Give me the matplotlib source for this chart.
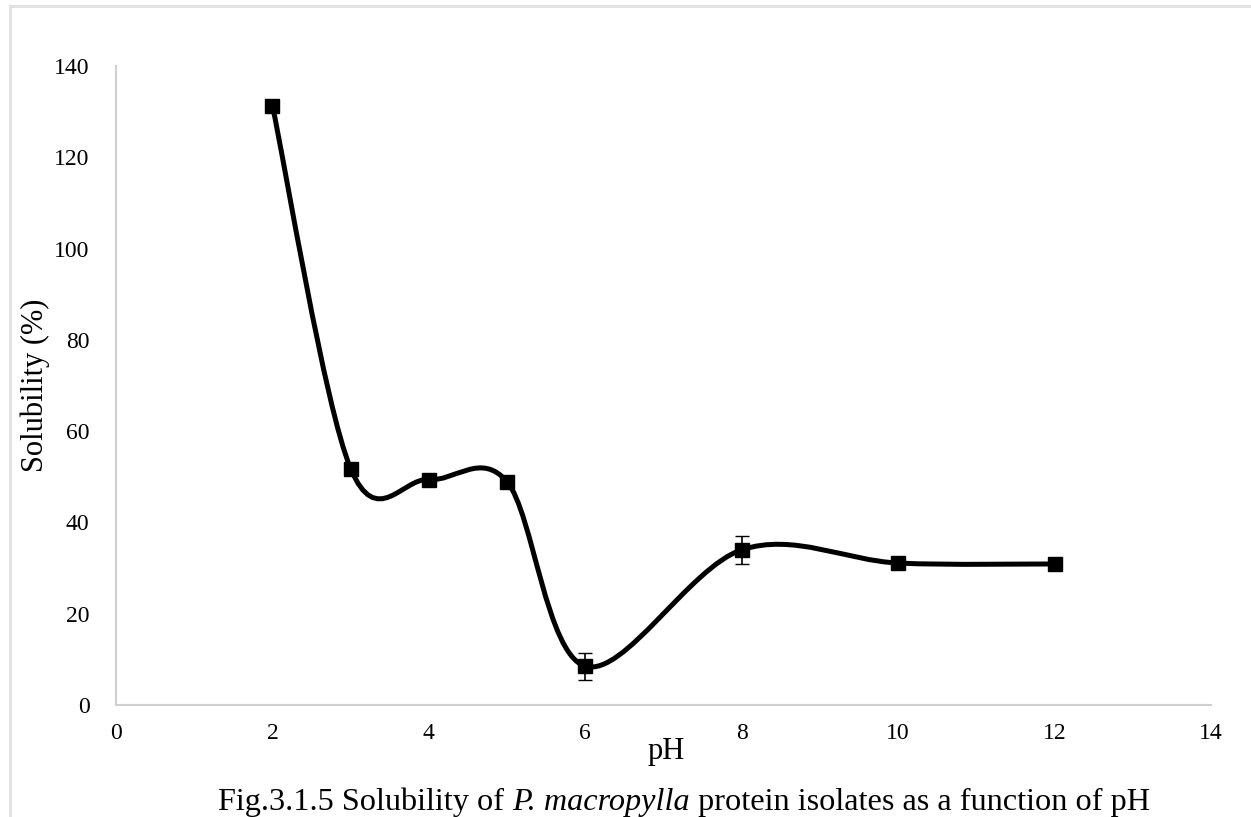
import numpy as np
import matplotlib
matplotlib.use("Agg")
import matplotlib.pyplot as plt
from matplotlib.path import Path
from matplotlib.patches import PathPatch

# data
ph = [2, 3, 4, 5, 6, 8, 10, 12]
solubility = [131.3, 51.8, 49.4, 48.9, 8.5, 34.0, 31.1, 30.9]
err = [0.8, 1.0, 1.0, 1.0, 3.0, 3.0, 1.0, 0.8]

plt.rcParams['font.family'] = ['Liberation Serif', 'DejaVu Serif']

fig = plt.figure(figsize=(12.51, 8.17), dpi=100)
ax = fig.add_axes([116/1251, 1-705/817, (1211-116)/1251, (705-66)/817])


def suave(xs, ys):
    # curva suavizada estilo Excel (Catmull-Rom -> Bezier)
    pts = np.column_stack([xs, ys]).astype(float)
    n = len(pts)
    verts = [pts[0]]
    codes = [Path.MOVETO]
    for i in range(n - 1):
        p0 = pts[i - 1] if i > 0 else pts[i]
        p1 = pts[i]
        p2 = pts[i + 1]
        p3 = pts[i + 2] if i + 2 < n else pts[i + 1]
        c1 = p1 + (p2 - p0) / 6
        c2 = p2 - (p3 - p1) / 6
        verts += [c1, c2, p2]
        codes += [Path.CURVE4] * 3
    return Path(verts, codes)


ax.add_patch(PathPatch(suave(ph, solubility), fill=False, lw=3.6, color='black', zorder=2))
ax.errorbar(ph, solubility, yerr=err, fmt='s', color='black', ms=10, ecolor='black',
            elinewidth=1.2, capsize=5, zorder=3)

ax.set_xlim(0, 14)
ax.set_ylim(0, 140)
ax.set_xticks(range(0, 15, 2))
ax.set_yticks(range(0, 141, 20))
for s in ['top', 'right']:
    ax.spines[s].set_visible(False)
for s in ['left', 'bottom']:
    ax.spines[s].set_color('#d0d0d0')
    ax.spines[s].set_linewidth(1.5)
ax.tick_params(length=0, labelsize=17)
ax.tick_params(axis='x', pad=13)
ax.tick_params(axis='y', pad=19)
ax.set_xlabel('pH', fontsize=22)
ax.set_ylabel('Solubility (%)', fontsize=22)
ax.xaxis.set_label_coords(0.502, -0.050)
ax.yaxis.set_label_coords(-0.060, 0.50)

# moldura da imagem
fig.add_artist(plt.Line2D([10/1251, 1], [1-6/817, 1-6/817], color='#e0e0e0', lw=2))
fig.add_artist(plt.Line2D([10/1251, 10/1251], [0, 1-6/817], color='#e0e0e0', lw=2))

# legenda da figura com italico
y0 = 1 - 810/817
t1 = fig.text(218/1251, y0, 'Fig.3.1.5 Solubility of ', fontsize=23.2, va='baseline')
t2 = ax.annotate('P. macropylla', xy=(1, 0), xycoords=t1, va='bottom', fontsize=23.2,
                 style='italic', annotation_clip=False)
t3 = ax.annotate(' protein isolates as a function of pH', xy=(1, 0), xycoords=t2,
                 va='bottom', fontsize=23.2, annotation_clip=False)

fig.savefig('out.png', dpi=100)
